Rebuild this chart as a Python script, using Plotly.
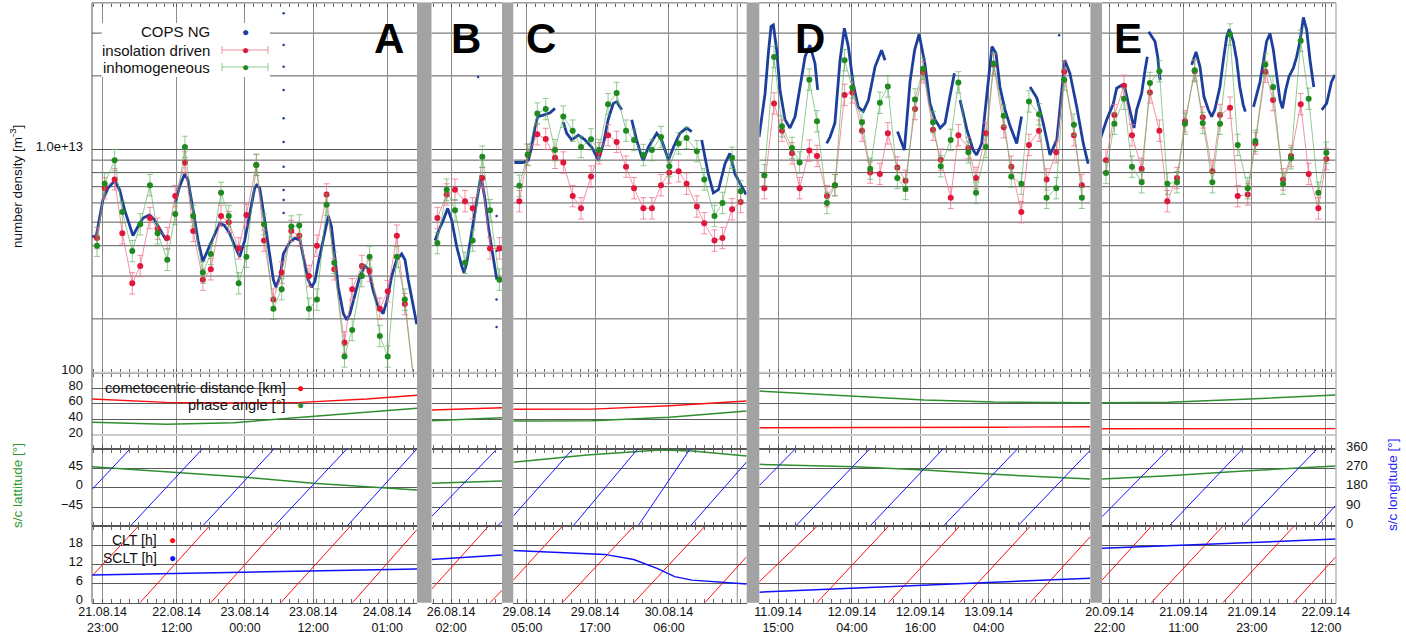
import numpy as np
import plotly.graph_objects as go

W, H = 1406, 641
FONT = "Liberation Sans, Arial, Helvetica, sans-serif"

# ---------------- time axes: hours after a reference time, one axis per interval
SEG_LETTERS = ["A", "B", "C", "D", "E"]
SEG_HOURS = [(-1.88, 55.24), (-3.43, 8.96), (-2.36, 38.66), (-3.29, 54.9), (-1.32, 39.8)]
SEG_TICK_H = [[0, 13, 25, 37, 50], [0], [0, 12, 25], [0, 13, 25, 37], [0, 13, 25, 38]]
SEG_TICK_TEXT = [
    ["21.08.14<br>23:00", "22.08.14<br>12:00", "23.08.14<br>00:00", "23.08.14<br>12:00", "24.08.14<br>01:00"],
    ["26.08.14<br>02:00"],
    ["29.08.14<br>05:00", "29.08.14<br>17:00", "30.08.14<br>06:00"],
    ["11.09.14<br>15:00", "12.09.14<br>04:00", "12.09.14<br>16:00", "13.09.14<br>04:00"],
    ["20.09.14<br>22:00", "21.09.14<br>11:00", "21.09.14<br>23:00", "22.09.14<br>12:00"],
]
# unlabeled grid positions close to the grey bars (segment index, hour)
SEG_EXTRA_GRID = [(2, 37), (3, 50)]

# ---------------- number density (units of 1e12 m^-3)
A_model_t = [-1.0, 0.35, 2.1, 3.45, 5.2, 6.6, 8.3, 9.65, 11.35, 12.75, 14.45, 15.9, 17.6, 19.0, 20.8, 22.15, 23.9, 25.25, 27.0,
             28.35, 30.0, 31.45, 33.15, 34.55, 36.25, 37.65, 39.35, 40.7, 42.5, 43.85, 45.55, 46.9, 48.7, 50.1, 51.7, 53.1, 54.9]
A_insol = [4.3, 6.9, 7.5, 4.5, 2.8, 3.3, 5.2, 4.7, 4.3, 6.4, 8.8, 4.6, 2.9, 3.2, 5.3, 5.0, 3.9, 5.35, 8.6,
           4.2, 2.4, 3.1, 4.6, 4.4, 3.0, 4.0, 6.5, 3.2, 1.6, 2.65, 3.3, 3.15, 2.2, 2.6, 4.4, 2.3, 1.0]
A_inhom = [4.0, 7.2, 9.0, 5.5, 3.8, 4.9, 7.1, 4.5, 3.5, 5.4, 10.2, 5.3, 3.1, 3.7, 6.6, 5.3, 2.8, 3.6, 8.6,
           4.9, 2.2, 2.65, 4.8, 4.85, 2.2, 2.4, 5.9, 3.4, 1.4, 1.8, 3.0, 3.6, 1.7, 1.4, 3.6, 2.4, 1.0]
A_cops_t = [-1.88, -1.12, 0.05, 0.93, 2.1, 2.98, 3.86, 4.74, 5.32, 6.2, 7.08, 8.25, 9.13, 10.0, 11.2, None,
            12.77, 13.5, 14.4, 14.99, 15.9, 16.75, 17.6, 18.5, 19.4, 20.56, 21.4, 22.3, 23.2, 24.07, 24.95, 25.8, 26.7,
            27.06, 27.6, 28.2, 29.1, 29.99, 30.46, 31.2, 31.75, 32.9, 33.8, 34.7, 35.26, 36.1, 36.7, 37.3, 37.9, 38.5,
            39.07, 39.65, 40.2, 40.8, 41.4, 42.3, 42.9, 43.46, 44.35, 45.2, 46.1, 46.7, 47.56, 48.4, 49.3, 50.0, 50.8,
            51.66, 52.55, 53.13, 53.7, 54.6, 55.2]
A_cops_n = [4.35, 4.4, 6.2, 6.9, 7.4, 6.8, 5.6, 4.8, 4.4, 4.8, 5.2, 5.35, 5.1, 4.7, 4.2, None,
            6.0, 7.0, 7.9, 7.45, 5.6, 4.2, 3.45, 3.85, 4.35, 4.95, 4.85, 4.5, 4.0, 3.6, 4.2, 5.4, 6.9,
            7.1, 6.9, 5.6, 4.0, 2.9, 2.7, 3.0, 3.7, 4.15, 4.3, 4.2, 3.6, 2.9, 2.7, 2.85, 3.4, 4.0,
            4.65, 5.3, 4.8, 3.6, 2.7, 2.1, 1.98, 2.1, 2.5, 3.0, 3.3, 3.2, 2.6, 2.25, 2.1, 2.4, 3.0,
            3.5, 3.7, 3.5, 2.9, 2.25, 1.9]
A_spike_t = [31.8] * 10
A_spike_n = [36.2, 26.8, 21.8, 17.5, 13.4, 10.7, 8.46, 6.78, 6.17, 5.45]

B_model_t = [-2.4, -0.76, 0.7, 2.46, 3.8, 5.5, 6.85, 8.5]
B_insol = [5.2, 6.5, 6.8, 6.1, 5.7, 7.6, 3.9, 3.9]
B_inhom = [4.1, 6.8, 5.6, 3.4, 4.2, 9.3, 5.6, 2.9]
B_cops_t = [-2.8, -2.2, -1.35, -0.58, 0.12, 1.0, 1.88, 2.28, 2.76, 3.6, 4.5, 5.27, 5.98, 6.56, 7.4, 8.05]
B_cops_n = [4.2, 4.6, 5.1, 5.7, 5.1, 3.96, 3.3, 3.1, 3.4, 4.5, 6.2, 7.8, 6.2, 4.8, 3.6, 2.9]
B_spike_t = [4.75, 8.0, 8.0, 8.0, 8.0]
B_spike_n = [19.8, 5.3, 3.8, 2.4, 1.85]

C_model_t = [-1.3, 0.18, 1.86, 3.34, 4.97, 6.43, 8.08, 9.54, 11.3, 12.7, 14.3, 15.8, 17.45, 18.86, 20.5, 22.0,
             23.6, 25.06, 26.7, 28.1, 29.9, 31.2, 33.0, 34.4, 36.1, 37.6]
C_insol = [6.1, 9.45, 11.5, 11.0, 9.2, 8.8, 6.4, 5.7, 7.7, 9.6, 11.4, 10.7, 8.46, 6.9, 5.7, 5.7,
           7.1, 8.0, 8.1, 7.2, 5.8, 4.95, 4.2, 4.3, 5.65, 6.05]
C_inhom = [7.06, 9.5, 14.0, 14.6, 9.9, 13.6, 11.9, 10.2, 10.96, 9.9, 15.3, 17.0, 11.9, 10.9, 9.45, 9.9,
           11.2, 8.5, 10.55, 11.1, 9.8, 7.5, 5.3, 6.0, 9.2, 6.7]
C_cops_t = [-2.18, -0.6, 0.28, 0.88, 1.46, 1.93, 2.92, 4.1, 4.97, None,
            6.43, 7.03, 7.9, 9.07, 10.25, 11.4, 12.6, 13.5, 14.3, 15.2, 15.8, 16.7, None,
            18.45, 19.3, 20.2, 20.5, 21.4, 22.85, 23.7, 24.9, 25.8, 26.9, 28.1, 29.0, None,
            30.75, 31.9, 32.8, 33.7, 34.85, 35.7, 36.6, 37.8, 38.55]
C_cops_n = [8.8, 8.8, 9.0, 10.2, 12.3, 13.6, 13.8, 14.1, 14.7, None,
            12.9, 11.6, 10.9, 11.4, 10.9, 10.2, 9.0, 10.55, 13.2, 15.4, 15.65, 14.5, None,
            13.2, 10.9, 9.3, 9.0, 10.2, 11.6, 10.9, 9.0, 10.2, 11.6, 12.2, 11.8, None,
            10.9, 7.9, 6.6, 6.8, 8.7, 9.6, 7.9, 7.0, 6.5]

D_model_t = [-2.4, -0.7, 0.7, 2.46, 3.8, 5.5, 6.85, 8.6, 10.0, 11.7, 13.06, 14.76, 16.2, 17.9, 19.3, 20.97, 22.4,
             24.08, 25.5, 27.24, 28.6, 30.35, 31.7, 33.45, 34.8, 36.55, 37.9, 39.67, 41.0, 42.76, 44.1, 45.87,
             47.2, 48.9, 50.3, 52.0, 53.4]
D_insol = [6.9, 15.4, 11.9, 9.6, 6.9, 9.85, 9.36, 6.4, 7.1, 16.7, 17.1, 11.9, 8.0, 7.9, 11.6, 8.4, 7.4,
           14.6, 20.7, 12.0, 9.04, 6.3, 11.4, 10.1, 7.6, 11.6, 22.2, 12.3, 8.46, 5.5, 10.4, 11.9,
           7.5, 9.7, 20.8, 11.4, 7.1]
D_inhom = [7.8, 23.9, 12.4, 10.1, 8.8, 19.3, 13.0, 6.0, 7.1, 23.2, 17.9, 12.9, 8.3, 15.5, 18.1, 7.6, 6.85,
           16.0, 21.4, 12.9, 8.5, 10.9, 18.8, 9.7, 6.6, 10.2, 22.5, 13.7, 7.7, 7.2, 15.7, 13.9,
           6.3, 6.9, 19.3, 12.6, 6.3]
D_cops_t = [-3.34, -2.87, -2.28, -1.7, -1.23, -0.82, -0.23, 0.35, 1.23, 2.1, 3.0, 3.87, 4.75, 5.6, 6.5, 6.97, None,
            8.55, 9.14, 10.0, 10.9, 11.66, 12.36, 13.2, 14.1, 15.0, 15.9, 17.05, 18.2, 18.8, None,
            21.0, 22.2, 23.2, 24.0, 24.8, 25.8, 26.7, 27.6, 28.5, 29.35, 30.2, 31.0, None,
            32.0, 33.2, 34.3, 34.9, 35.8, 36.7, 37.6, 38.3, 39.0, 39.9, 40.8, 41.95, 42.8, None,
            44.3, 45.5, 46.6, 47.8, 49.0, 49.85, 50.4, 51.3, 52.5, 53.65, 54.5]
D_cops_n = [11.2, 13.2, 16.9, 24.8, 31.9, 32.4, 25.5, 17.5, 13.2, 12.2, 13.6, 18.0, 24.0, 26.8, 22.5, 17.5, None,
            10.55, 11.2, 12.8, 23.2, 31.4, 26.4, 18.6, 14.9, 14.3, 15.9, 21.8, 25.5, 23.2, None,
            11.8, 9.9, 18.9, 25.5, 29.7, 22.5, 15.4, 13.2, 12.2, 12.8, 16.4, 20.5, None,
            15.9, 12.0, 9.9, 9.45, 10.55, 16.95, 26.4, 24.8, 18.0, 14.5, 12.4, 10.55, 13.6, None,
            18.0, 16.2, 12.8, 9.45, 10.9, 17.5, 23.2, 20.5, 14.9, 10.55, 8.7]
D_spike_t = [49.4]
D_spike_n = [29.4]

E_model_t = [-0.62, 0.85, 2.55, 3.95, 5.65, 7.1, 8.76, 10.16, 11.86, 13.27, 14.97, 16.38, 18.07, 19.42, 21.18,
             22.53, 24.29, 25.63, 27.39, 28.74, 30.5, 31.9, 33.6, 35.0, 36.7, 38.1]
E_insol = [9.0, 13.8, 18.2, 11.4, 8.3, 17.1, 11.9, 6.1, 7.6, 13.0, 20.9, 13.5, 8.1, 13.8, 14.8,
           6.4, 6.5, 10.55, 20.8, 15.9, 7.5, 9.36, 15.3, 7.9, 5.7, 9.1]
E_inhom = [7.97, 12.7, 16.1, 8.46, 7.3, 18.7, 20.9, 7.2, 7.3, 12.7, 21.1, 12.8, 7.3, 12.7, 29.6,
           10.4, 6.9, 10.8, 22.3, 18.0, 7.2, 9.16, 27.9, 16.1, 6.6, 9.65]
E_cops_t = [-1.67, -0.5, 0.67, 1.26, 2.14, 2.72, 3.31, 3.9, 4.3, 4.77, 5.65, 6.24, 6.65, None,
            6.88, 7.41, 8.0, 8.47, 8.88, None,
            14.44, 15.2, 15.9, 16.6, 17.37, 17.96, 18.5, 19.4, 20.0, 20.6, 21.06, 21.76, 22.35, 22.9, 23.5, 23.87, None,
            25.3, 25.9, 26.45, 27.04, 27.6, 28.2, 28.8, 29.4, 29.96, 30.4, 30.96, 31.55, 32.3, 32.9, 33.5, 34.07,
            34.65, 35.24, 35.9, None, 37.3, 38.16, 39.0, 39.6]
E_cops_n = [10.9, 13.2, 15.4, 17.8, 18.3, 17.8, 15.4, 13.2, 12.2, 14.5, 16.95, 21.1, 24.0, None,
            30.4, 29.0, 27.7, 24.0, 19.2, None,
            22.2, 25.1, 21.8, 16.4, 14.5, 13.6, 14.5, 18.0, 23.2, 29.0, 31.1, 27.7, 23.2, 18.0, 15.2, 14.25, None,
            14.9, 16.95, 18.9, 22.9, 27.7, 29.9, 25.5, 19.9, 15.9, 14.7, 17.5, 19.9, 21.5, 24.0, 28.1, 34.8,
            30.9, 23.2, 18.0, None, 14.5, 15.4, 18.9, 20.2]

# ---------------- cometocentric distance [km] and phase angle [deg]
A_geo_t = [-1.88, 11.2, 23.0, 34.7, 46.4, 55.24]
A_dist = [66.3, 62.0, 61.2, 62.0, 66.3, 71.1]
A_phase = [36.3, 33.8, 35.8, 42.3, 49.2, 54.3]
B_geo_t = [-3.43, 8.96]
B_dist = [52.2, 55.1]
B_phase = [38.4, 42.3]
C_geo_t = [-2.36, 5.9, 11.5, 25.1, 38.66]
C_dist = [53.1, 53.1, 53.3, 57.7, 63.7]
C_phase = [38.0, 37.6, 38.2, 42.8, 50.9]
D_geo_t = [-3.29, 13.5, 25.7, 38.0, 54.9]
D_dist = [29.4, 29.4, 29.6, 30.0, 30.7]
D_phase = [76.6, 70.2, 65.0, 62.4, 61.6]
E_geo_t = [-1.32, 10.4, 23.6, 39.8]
E_dist = [28.1, 28.1, 28.1, 28.2]
E_phase = [61.6, 62.0, 65.9, 71.4]

# ---------------- s/c latitude [deg]
A_lat_t = [-1.88, 11.25, 25.3, 37.0, 46.4, 55.24]
A_lat = [48.8, 37.2, 24.2, 10.2, 1.6, -5.3]
B_lat_t = [-3.43, 8.96]
B_lat = [10.2, 15.6]
C_lat_t = [-2.36, 10.6, 23.4, 29.05, 38.66]
C_lat = [59.1, 76.0, 87.7, 85.3, 73.7]
D_lat_t = [-3.29, 13.5, 25.7, 38.0, 54.9]
D_lat = [54.4, 48.8, 41.2, 31.1, 20.2]
E_lat_t = [-1.32, 10.4, 23.6, 39.8]
E_lat = [20.2, 27.9, 38.8, 50.5]

# ---------------- s/c longitude [deg] (wraps 360 -> 0)
A_lon_t = [-1.88, 4.8, None, 4.8, 17.5, None, 17.5, 30.1, None, 30.1, 42.9, None, 42.9, 55.2]
A_lon = [172, 360, None, 0, 360, None, 0, 360, None, 0, 360, None, 0, 360]
B_lon_t = [-3.43, 8.07, None, 8.07, 8.96]
B_lon = [45, 360, None, 0, 22]
C_lon_t = [-2.36, 8.08, None, 8.08, 19.5, None, 19.5, 28.7, None, 28.7, 38.66]
C_lon = [48, 360, None, 0, 360, None, 0, 360, None, 0, 300]
D_lon_t = [-3.29, 3.04, None, 3.04, 16.1, None, 16.1, 29.0, None, 29.0, 42.07, None, 42.07, 54.9]
D_lon = [190, 360, None, 0, 360, None, 0, 360, None, 0, 360, None, 0, 355]
E_lon_t = [-1.32, 10.4, None, 10.4, 23.36, None, 23.36, 36.45, None, 36.45, 39.8]
E_lon = [45, 360, None, 0, 360, None, 0, 360, None, 0, 100]

# ---------------- CLT [h] (wraps 24 -> 0) and SCLT [h]
A_clt_t = [-1.88, 6.26, None, 6.56, 18.7, None, 19.0, 31.0, None, 31.3, 43.5, None, 43.9, 55.2]
A_clt = [8.4, 24, None, 0, 24, None, 0, 24, None, 0, 24, None, 0, 22.9]
B_clt_t = [-3.43, 6.56, None, 6.85, 8.96]
B_clt = [4.2, 24, None, 0, 3.9]
C_clt_t = [-2.36, 6.24, None, 6.24, 18.8, None, 18.8, 31.3, None, 31.3, 38.66]
C_clt = [7.1, 24, None, 0, 24, None, 0, 24, None, 0, 14.5]
D_clt_t = [-3.29, 6.84, None, 6.84, 19.4, None, 19.4, 31.9, None, 31.9, 44.3, None, 44.3, 54.9]
D_clt = [6.6, 24, None, 0, 24, None, 0, 24, None, 0, 24, None, 0, 20.8]
E_clt_t = [-1.32, 7.33, None, 7.33, 19.9, None, 19.9, 32.4, None, 32.4, 39.8]
E_clt = [7.1, 24, None, 0, 24, None, 0, 24, None, 0, 14.5]

A_sclt_t = [-1.88, 27.0, 55.24]
A_sclt = [8.7, 9.7, 10.6]
B_sclt_t = [-3.43, 8.96]
B_sclt = [13.6, 15.0]
C_sclt_t = [-2.36, 13.7, 18.8, 22.9, 26.0, 29.05, 38.66]
C_sclt = [16.4, 15.2, 13.6, 10.8, 8.2, 7.1, 5.9]
D_sclt_t = [-3.29, 54.9]
D_sclt = [3.3, 7.7]
E_sclt_t = [-1.32, 39.8]
E_sclt = [17.1, 20.0]

ERR_DEX = 0.044   # model uncertainty (decades)
UNIT = 1e12
MINOR_H = 1.5625  # minor tick spacing [h]

# ---------------- layout geometry (pixels)
SEG_PX = [(92, 417), (431.5, 502), (513.3, 746.7), (759.3, 1090.4), (1102, 1336)]
ROW_PX = {"dens": (3, 372.8), "geo": (372.8, 449), "ll": (449, 526.4), "lt": (526.4, 602.7)}
GAP_PX = [(417, 431.5), (502, 513.3), (746.7, 759.3), (1090.4, 1102)]
LEFT, RIGHT, TOP, BOTTOM = 92, 1336, 3, 602.7


def px(x):
    return x / W


def py(y):
    return 1 - y / H


def ydom(key):
    a, b = ROW_PX[key]
    return [py(b), py(a)]


COL_COPS = "#1c3f9c"
COL_RED = "#e0163c"
COL_RED_L = "rgba(238,110,135,0.75)"
COL_GRN = "#1f8a1f"
COL_GRN_L = "rgba(90,175,90,0.65)"

segs = {
    "A": dict(mt=A_model_t, ins=A_insol, inh=A_inhom, ct=A_cops_t, cn=A_cops_n, st=A_spike_t, sn=A_spike_n,
              gt=A_geo_t, dist=A_dist, ph=A_phase, lt=A_lat_t, lat=A_lat, lot=A_lon_t, lon=A_lon,
              clt_t=A_clt_t, clt=A_clt, sct=A_sclt_t, sclt=A_sclt),
    "B": dict(mt=B_model_t, ins=B_insol, inh=B_inhom, ct=B_cops_t, cn=B_cops_n, st=B_spike_t, sn=B_spike_n,
              gt=B_geo_t, dist=B_dist, ph=B_phase, lt=B_lat_t, lat=B_lat, lot=B_lon_t, lon=B_lon,
              clt_t=B_clt_t, clt=B_clt, sct=B_sclt_t, sclt=B_sclt),
    "C": dict(mt=C_model_t, ins=C_insol, inh=C_inhom, ct=C_cops_t, cn=C_cops_n, st=[], sn=[],
              gt=C_geo_t, dist=C_dist, ph=C_phase, lt=C_lat_t, lat=C_lat, lot=C_lon_t, lon=C_lon,
              clt_t=C_clt_t, clt=C_clt, sct=C_sclt_t, sclt=C_sclt),
    "D": dict(mt=D_model_t, ins=D_insol, inh=D_inhom, ct=D_cops_t, cn=D_cops_n, st=D_spike_t, sn=D_spike_n,
              gt=D_geo_t, dist=D_dist, ph=D_phase, lt=D_lat_t, lat=D_lat, lot=D_lon_t, lon=D_lon,
              clt_t=D_clt_t, clt=D_clt, sct=D_sclt_t, sclt=D_sclt),
    "E": dict(mt=E_model_t, ins=E_insol, inh=E_inhom, ct=E_cops_t, cn=E_cops_n, st=[], sn=[],
              gt=E_geo_t, dist=E_dist, ph=E_phase, lt=E_lat_t, lat=E_lat, lot=E_lon_t, lon=E_lon,
              clt_t=E_clt_t, clt=E_clt, sct=E_sclt_t, sclt=E_sclt),
}


def scale(vals):
    return [None if v is None else v * UNIT for v in vals]


fig = go.Figure()
for i, L in enumerate(SEG_LETTERS):
    s = segs[L]
    xa = "x" if i == 0 else f"x{i + 1}"
    # COPS
    fig.add_trace(go.Scatter(x=s["ct"], y=scale(s["cn"]), mode="lines", xaxis=xa, yaxis="y",
                             line=dict(color=COL_COPS, width=2.8), connectgaps=False, showlegend=False))
    if s["st"]:
        fig.add_trace(go.Scatter(x=s["st"], y=scale(s["sn"]), mode="markers", xaxis=xa, yaxis="y",
                                 marker=dict(color=COL_COPS, size=2.5), showlegend=False))
    # models
    for key, cm, cl in (("ins", COL_RED, COL_RED_L), ("inh", COL_GRN, COL_GRN_L)):
        v = np.array(s[key]) * UNIT
        fig.add_trace(go.Scatter(
            x=s["mt"], y=v, mode="lines+markers", xaxis=xa, yaxis="y",
            line=dict(color=cl, width=1), marker=dict(color=cm, size=6),
            error_y=dict(type="data", symmetric=False, array=v * (10 ** ERR_DEX - 1),
                         arrayminus=v * (1 - 10 ** -ERR_DEX), color=cl, thickness=1, width=3),
            showlegend=False))
    # distance & phase
    fig.add_trace(go.Scatter(x=s["gt"], y=s["dist"], mode="lines", xaxis=xa, yaxis="y2",
                             line=dict(color="#ff1010", width=1.4), showlegend=False))
    fig.add_trace(go.Scatter(x=s["gt"], y=s["ph"], mode="lines", xaxis=xa, yaxis="y2",
                             line=dict(color="#2f8f2f", width=1.5), showlegend=False))
    # latitude / longitude
    fig.add_trace(go.Scatter(x=s["lt"], y=s["lat"], mode="lines", xaxis=xa, yaxis="y3",
                             line=dict(color="#2f8f2f", width=1.5), showlegend=False))
    fig.add_trace(go.Scatter(x=s["lot"], y=s["lon"], mode="lines", xaxis=xa, yaxis="y5",
                             line=dict(color="#1515ff", width=1), connectgaps=False, showlegend=False))
    # local times
    fig.add_trace(go.Scatter(x=s["clt_t"], y=s["clt"], mode="lines", xaxis=xa, yaxis="y4",
                             line=dict(color="#ff1010", width=1), connectgaps=False, showlegend=False))
    fig.add_trace(go.Scatter(x=s["sct"], y=s["sclt"], mode="lines", xaxis=xa, yaxis="y4",
                             line=dict(color="#1010ff", width=1.5), showlegend=False))

GRID_H = "#5a5a5a"
GRID_V = "#8c8c8c"
tickfont = dict(family=FONT, size=13, color="#111")
xtickfont = dict(family=FONT, size=12.5, color="#111")
layout = dict(
    width=W, height=H, margin=dict(l=0, r=0, t=0, b=0, autoexpand=False),
    paper_bgcolor="white", plot_bgcolor="white", font=dict(family=FONT, size=13, color="#111"),
    showlegend=False,
)
for i in range(5):
    key = "xaxis" if i == 0 else f"xaxis{i + 1}"
    a, b = SEG_PX[i]
    layout[key] = dict(domain=[px(a), px(b)], range=list(SEG_HOURS[i]), anchor="y4",
                       tickmode="array", tickvals=SEG_TICK_H[i], ticktext=SEG_TICK_TEXT[i],
                       showgrid=True, gridcolor=GRID_V, gridwidth=1, zeroline=False,
                       showline=True, linecolor="#555555", linewidth=1, mirror="allticks",
                       ticks="inside", ticklen=4, tickcolor="#555555",
                       minor=dict(tickmode="linear", tick0=0, dtick=MINOR_H, ticks="inside", ticklen=4,
                                  tickcolor="#666666", showgrid=False),
                       tickfont=xtickfont, ticklabelstandoff=-3)

dens_grid = [2e12, 3e12, 4e12, 5e12, 6e12, 7e12, 8e12, 9e12, 2e13, 3e13]
ylab = dict(ticks="", tickfont=tickfont, ticklabelstandoff=8, ticklabelshift=-3, zeroline=False)
layout["yaxis"] = dict(domain=ydom("dens"), type="log", range=[12.079, 13.601], anchor="x",
                       tickmode="array", tickvals=[1e13], ticktext=["1.0e+13"],
                       showgrid=True, gridcolor=GRID_H, **ylab)
layout["yaxis2"] = dict(domain=ydom("geo"), range=[1.99, 100], anchor="x", tickmode="array",
                        tickvals=[20, 40, 60, 80, 100], showgrid=True, gridcolor=GRID_H, **ylab)
layout["yaxis3"] = dict(domain=ydom("ll"), range=[-90, 90], anchor="x", tickmode="array",
                        tickvals=[-45, 0, 45], showgrid=True, gridcolor=GRID_H, **ylab)
layout["yaxis5"] = dict(range=[0, 360], overlaying="y3", side="right", anchor="x5", tickmode="array",
                        tickvals=[0, 90, 180, 270, 360], showgrid=False, zeroline=False, ticks="",
                        tickfont=tickfont, ticklabelstandoff=9, ticklabelshift=-3)
layout["yaxis4"] = dict(domain=ydom("lt"), range=[0, 24], anchor="x", tickmode="array",
                        tickvals=[0, 6, 12, 18], showgrid=True, gridcolor=GRID_H, **ylab)
fig.update_layout(**layout)

shapes = []


def hline(y, x0, x1, color, width, layer="above"):
    shapes.append(dict(type="line", xref="paper", yref="paper", x0=px(x0), x1=px(x1), y0=py(y), y1=py(y),
                       line=dict(color=color, width=width), layer=layer))


def vline(x, y0, y1, color, width):
    shapes.append(dict(type="line", xref="paper", yref="paper", x0=px(x), x1=px(x), y0=py(y0), y1=py(y1),
                       line=dict(color=color, width=width), layer="above"))


# log grid of the density panel (minor decades), drawn under the data
for v in dens_grid:
    for i in range(5):
        xa = "x" if i == 0 else f"x{i + 1}"
        shapes.append(dict(type="line", xref=f"{xa} domain", yref="y", x0=0, x1=1, y0=v, y1=v,
                           line=dict(color=GRID_H, width=1), layer="below"))
# unlabeled vertical grid lines next to the grey bars
for i, hh in SEG_EXTRA_GRID:
    xa = f"x{i + 1}"
    shapes.append(dict(type="line", xref=xa, yref="paper", x0=hh, x1=hh, y0=py(BOTTOM), y1=py(TOP),
                       line=dict(color=GRID_V, width=1), layer="below"))

# frame and panel separators
hline(TOP, LEFT, RIGHT, "#b8b8b8", 1.5)
hline(372.8, LEFT, RIGHT, "#cccccc", 2)
hline(435, LEFT, RIGHT, "#cccccc", 2)
vline(LEFT, TOP, BOTTOM, "#555555", 1)
vline(RIGHT, TOP, BOTTOM, "#b8b8b8", 1.5)
# grey bars between the intervals
for a, b in GAP_PX:
    shapes.append(dict(type="rect", xref="paper", yref="paper", x0=px(a), x1=px(b), y0=py(BOTTOM), y1=py(TOP),
                       fillcolor="#a3a3a3", line=dict(width=0), layer="above"))
# legend box of the density panel
shapes.append(dict(type="rect", xref="paper", yref="paper", x0=px(101.7), x1=px(270), y0=py(77), y1=py(23),
                   fillcolor="white", line=dict(width=0), layer="above"))
for yy, cl in ((50, COL_RED_L), (67, COL_GRN_L)):
    hline(yy, 222, 268, cl, 1)
    vline(222, yy - 4, yy + 4, cl, 1)
    vline(268, yy - 4, yy + 4, cl, 1)

annotations = []


def text(x, y, s, xanchor="right", size=13.5, color="#111", **kw):
    annotations.append(dict(x=px(x), y=py(y), xref="paper", yref="paper", text=s, showarrow=False,
                            xanchor=xanchor, yanchor="middle", font=dict(family=FONT, size=size, color=color), **kw))


def dot(x, y, color):
    text(x, y, "●", xanchor="center", size=12, color=color)


text(212, 31, "COPS NG", size=15)
dot(245, 32, COL_COPS)
text(212, 50, "insolation driven", size=15)
dot(245, 50, COL_RED)
text(212, 67, "inhomogeneous", size=15)
dot(245, 67, COL_GRN)

text(288, 388, "cometocentric distance [km]", size=14.6)
dot(300, 388, "#ff1010")
text(288, 405, "phase angle [°]", size=14.6)
dot(300, 405, "#2f8f2f")

text(159, 540, "CLT [h]", size=14)
dot(172, 540, "#ff1010")
text(159, 558, "SCLT [h]", size=14)
dot(172, 558, "#1010ff")

for L, xc in zip(SEG_LETTERS, [389, 466, 541, 810, 1128]):
    text(xc, 39, f"<b>{L}</b>", xanchor="center", size=42, color="#000")

text(16, 187, "number density [m<sup>-3</sup>]", xanchor="center", size=13.5, textangle=-90)
text(17, 486, "s/c lattitude [°]", xanchor="center", size=13.5, color="#2f9a2f", textangle=-90)
text(1392, 485, "s/c longitude [°]", xanchor="center", size=13.5, color="#2424ff", textangle=-90)

fig.update_layout(shapes=shapes, annotations=annotations)
fig.write_html("out.html", config={"displayModeBar": False},
               post_script="document.body.style.margin='0';document.body.style.overflow='hidden';")
